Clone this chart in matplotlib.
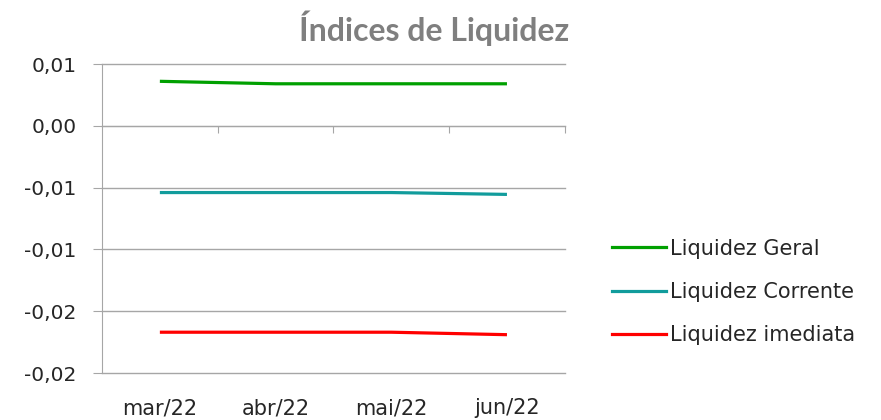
import matplotlib
matplotlib.use('Agg')
import matplotlib.pyplot as plt
from matplotlib.lines import Line2D

# dados
meses = ['mar/22', 'abr/22', 'mai/22', 'jun/22']
liq_geral = [0.0036, 0.0034, 0.0034, 0.0034]
liq_corrente = [-0.0054, -0.0054, -0.0054, -0.00555]
liq_imediata = [-0.0167, -0.0167, -0.0167, -0.0169]
nomes = ['Liquidez Geral', 'Liquidez Corrente', 'Liquidez imediata']
cores = ['#00a000', '#119c9c', '#ff0000']

y_ticks = [0.005, 0.0, -0.005, -0.01, -0.015, -0.02]
y_labels = ['0,01', '0,00', '-0,01', '-0,01', '-0,02', '-0,02']

plt.rcParams['font.family'] = ['DejaVu Sans']
grid_cor = '#a6a6a6'
txt_cor = '#262626'

fig = plt.figure(figsize=(8.81, 4.2), dpi=100)
ax = fig.add_axes([0.1158, 0.1119, 0.5253, 0.7357])

x = list(range(len(meses)))
for serie, nome, cor in zip([liq_geral, liq_corrente, liq_imediata], nomes, cores):
    ax.plot(x, serie, color=cor, lw=2.3, label=nome, solid_capstyle='butt')

ax.set_xlim(-0.5, len(meses) - 0.5)
ax.set_ylim(-0.02, 0.005)
ax.set_yticks(y_ticks)
ax.set_yticklabels(y_labels)
ax.yaxis.grid(True, color=grid_cor, lw=1)
for gl in ax.get_ygridlines():
    gl.set_clip_on(False)
ax.set_axisbelow(True)
ax.tick_params(axis='y', length=6.5, color=grid_cor, labelsize=14.5, pad=12, labelcolor=txt_cor)

for s in ['top', 'right']:
    ax.spines[s].set_visible(False)
ax.spines['left'].set_color(grid_cor)
ax.spines['bottom'].set_position(('data', 0))
ax.spines['bottom'].set_color(grid_cor)
ax.set_xticks([i + 0.5 for i in x])
ax.tick_params(axis='x', length=5, color=grid_cor, labelbottom=False)

sec = ax.secondary_xaxis(0.0)
sec.set_xticks(x)
sec.set_xticklabels(meses)
sec.tick_params(length=0, pad=18, labelsize=15, labelcolor=txt_cor)
sec.spines['bottom'].set_visible(False)

fig.text(0.493, 0.933, 'Índices de Liquidez', ha='center', va='center',
         fontsize=23, fontweight='bold', color='#7f7f7f', family='Lato')

handles = [Line2D([], [], color=c, lw=2.3) for c in cores]
fig.legend(handles, nomes, loc='center left', bbox_to_anchor=(0.6947, 0.305),
           frameon=False, fontsize=15, handlelength=2.6, handletextpad=0.2,
           labelspacing=1.12, borderpad=0, borderaxespad=0, labelcolor=txt_cor)

fig.savefig('out.png', dpi=100)
